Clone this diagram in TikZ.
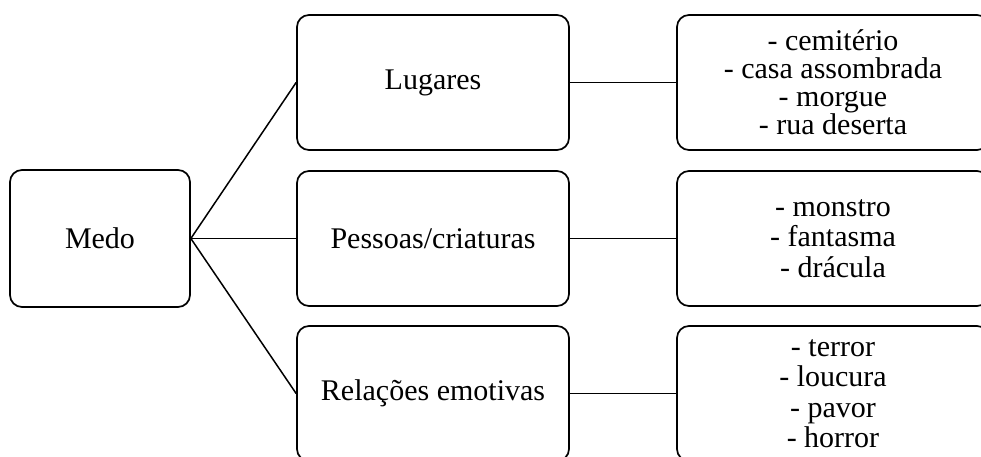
\documentclass[tikz,border=0pt]{standalone}
\usepackage{fontspec}
\setmainfont{Liberation Serif}
\begin{document}
\begin{tikzpicture}[x=1pt,y=-1pt,
  box/.style={draw=black,line width=1.7pt,rounded corners=12pt,align=center,
    font=\fontsize{30}{28}\selectfont,inner sep=0pt},
  leftbox/.style={box,minimum width=180pt,minimum height=137pt},
  midbox/.style={box,minimum width=272pt,minimum height=135pt},
  listbox/.style={box,minimum width=312pt,minimum height=135pt},
  widelist/.style={listbox,font=\fontsize{30}{30.5}\selectfont},
  link/.style={draw=black,line width=1.5pt}]
\useasboundingbox (0,0) rectangle (981,457);
\clip (0,0) rectangle (981,457);
\node[leftbox] (medo) at (100,238.5) {Medo};
\node[midbox] (lug) at (433,82.5) {Lugares};
\node[midbox] (pes) at (433,238.5) {Pessoas/criaturas};
\node[midbox] (rel) at (433,393.5) {Relações emotivas};
\node[listbox] (l1) at (833,82.5) {- cemitério\\- casa assombrada\\- morgue\\- rua deserta};
\node[widelist] (l2) at (833,238.5) {- monstro\\- fantasma\\- drácula};
\node[widelist] (l3) at (833,393.5) {- terror\\- loucura\\- pavor\\- horror};
\draw[link] (medo.east) -- (lug.west);
\draw[link] (medo.east) -- (pes.west);
\draw[link] (medo.east) -- (rel.west);
\draw[link] (lug.east) -- (l1.west);
\draw[link] (pes.east) -- (l2.west);
\draw[link] (rel.east) -- (l3.west);
\end{tikzpicture}
\end{document}
